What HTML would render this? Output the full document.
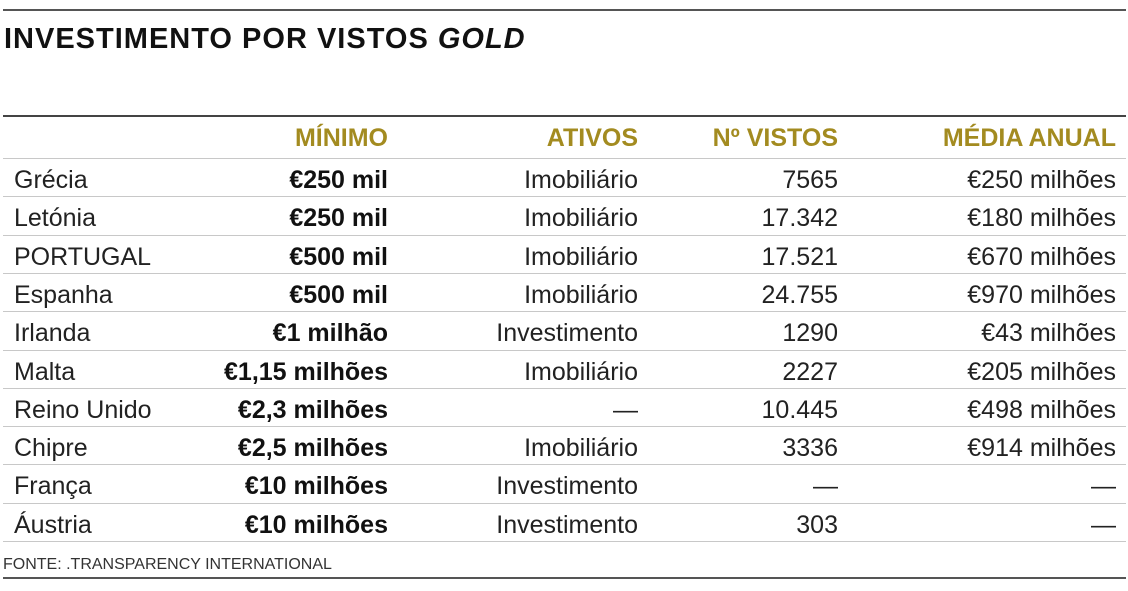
<!DOCTYPE html>
<html><head><meta charset="utf-8"><style>
body{margin:0;width:1128px;height:591px;background:#fff;position:relative;font-family:"Liberation Sans",sans-serif;overflow:hidden}
.l{position:absolute;left:3px;width:1123px;background:#c8c8c8;height:1px}
.t{position:absolute;white-space:nowrap;font-size:25px;color:#222;line-height:30px}
.h{font-weight:bold;color:#a38b20;font-size:25px}
</style></head><body>
<div class="l" style="top:9px;height:2px;background:#555"></div>
<div class="t" style="left:4px;top:21px;font-size:29px;font-weight:bold;color:#111;letter-spacing:1px;line-height:36px">INVESTIMENTO POR VISTOS <i>GOLD</i></div>
<div class="l" style="top:115px;height:2px;background:#444"></div>
<div id="tbl"></div>
<div class="t" style="left:3px;top:554px;font-size:16px;line-height:22px;color:#333">FONTE: .TRANSPARENCY INTERNATIONAL</div>
<div class="l" style="top:577px;height:2px;background:#555"></div>
<script>
const countries=["Grécia","Letónia","PORTUGAL","Espanha","Irlanda","Malta","Reino Unido","Chipre","França","Áustria"];
const minimo=["€250 mil","€250 mil","€500 mil","€500 mil","€1 milhão","€1,15 milhões","€2,3 milhões","€2,5 milhões","€10 milhões","€10 milhões"];
const ativos=["Imobiliário","Imobiliário","Imobiliário","Imobiliário","Investimento","Imobiliário","—","Imobiliário","Investimento","Investimento"];
const vistos=["7565","17.342","17.521","24.755","1290","2227","10.445","3336","—","303"];
const media=["€250 milhões","€180 milhões","€670 milhões","€970 milhões","€43 milhões","€205 milhões","€498 milhões","€914 milhões","—","—"];
const headers=["MÍNIMO","ATIVOS","Nº VISTOS","MÉDIA ANUAL"];
const rights=[388,638,838,1116];
const T=document.getElementById('tbl');
function add(txt,cls,style,name){const d=document.createElement('div');d.className=cls;d.textContent=txt;d.style.cssText=style;


T.appendChild(d);}
headers.forEach((h,i)=>add(h,'t h',`right:${1128-rights[i]}px;top:123px`,'column-header'));
const rowTop=158,rowH=38.3;
countries.forEach((c,r)=>{
 const y=rowTop+r*rowH;
 const ln=document.createElement('div');ln.className='l';ln.style.top=Math.round(y)+'px';
 
 
 T.appendChild(ln);
 const ty=Math.round(y+7);
 add(c,'t',`left:14px;top:${ty}px`,'country-cell');
 add(minimo[r],'t',`right:${1128-rights[0]}px;top:${ty}px;font-weight:bold;color:#111`,'minimo-cell');
 add(ativos[r],'t',`right:${1128-rights[1]}px;top:${ty}px`,'ativos-cell');
 add(vistos[r],'t',`right:${1128-rights[2]}px;top:${ty}px`,'vistos-cell');
 add(media[r],'t',`right:${1128-rights[3]}px;top:${ty}px`,'media-cell');
});
const lastLn=document.createElement('div');lastLn.className='l';lastLn.style.top=Math.round(rowTop+countries.length*rowH)+'px';


T.appendChild(lastLn);
</script>
</body></html>
